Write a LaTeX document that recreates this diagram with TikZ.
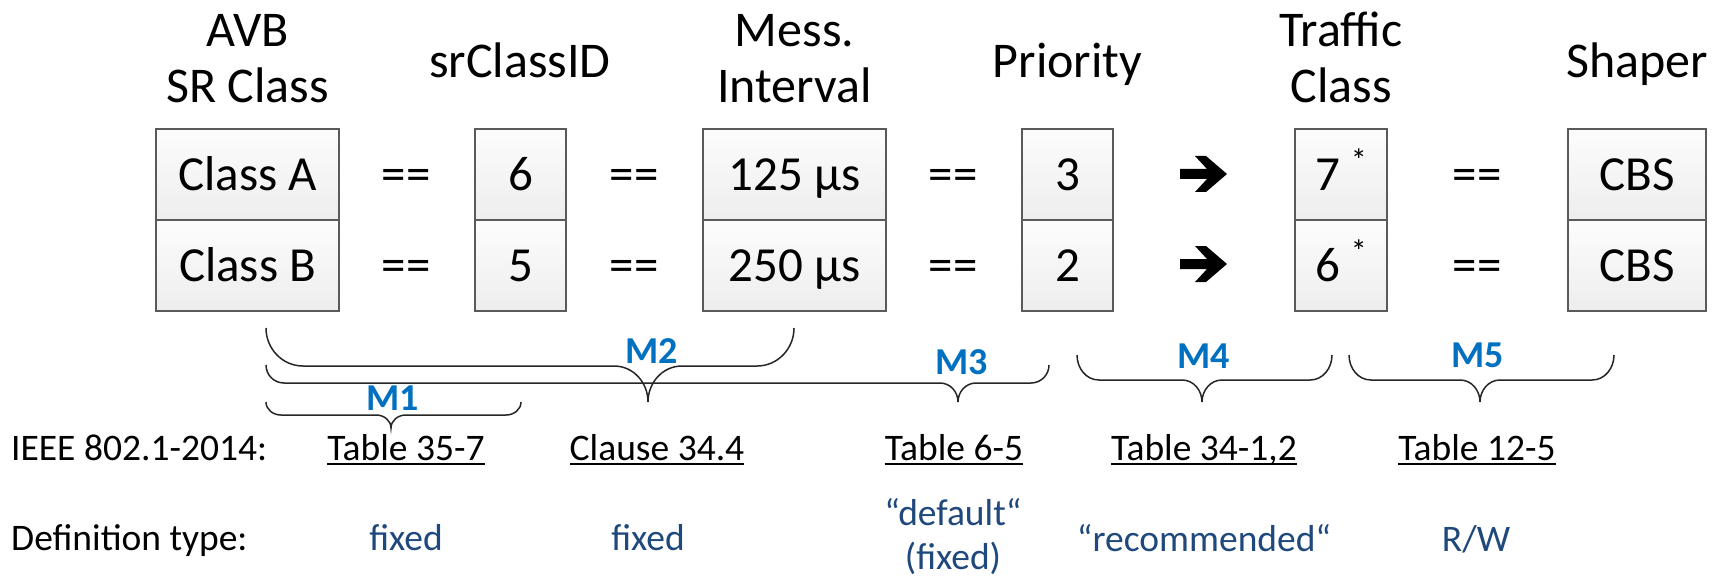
\documentclass[tikz,border=0pt]{standalone}
\usepackage{fontspec}
\setmainfont{Carlito}
\definecolor{mblue}{RGB}{0,112,192}
\definecolor{defblue}{RGB}{31,73,125}
\definecolor{boxline}{RGB}{90,90,90}
\tikzset{
  cell/.style={draw=boxline, line width=1.6pt, top color=white!99!black, bottom color=white!93!black,
    inner sep=0pt, minimum height=91pt, text height=31pt, text depth=0pt,
    font=\fontsize{49}{56}\selectfont},
  hdr/.style={inner sep=0pt, align=center, font=\fontsize{50}{56}\selectfont},
  eqs/.style={inner sep=0pt, anchor=base, font=\fontsize{49}{56}\selectfont},
  mlab/.style={inner sep=0pt, anchor=base, text=mblue, font=\fontsize{38}{40}\selectfont\bfseries},
  ref/.style={inner sep=0pt, anchor=base, font=\fontsize{37.5}{44}\selectfont},
  deftxt/.style={inner sep=0pt, anchor=base, text=defblue, font=\fontsize{37.5}{44}\selectfont},
  brace/.style={line width=1.5pt, black!85},
  ulin/.style={line width=2.2pt},
  fatarrow/.style={fill=black}
}
\newcommand{\mystarred}[1]{#1\hspace{11pt}\raisebox{19pt}{\fontsize{32}{32}\selectfont *}}
\begin{document}
\begin{tikzpicture}[x=1pt,y=-1pt]
\useasboundingbox (0,0) rectangle (1723,580);
\fill[white] (0,0) rectangle (1723,580);

% headers
\node[hdr, anchor=south] (h1) at (247.5,103) {AVB\\SR Class};
\node[hdr, anchor=base] (h2) at (520,78) {srClassID};
\node[hdr, anchor=south] (h3) at (794.5,103) {Mess.\\Interval};
\node[hdr, anchor=base] (h4) at (1067.5,78) {Priority};
\node[hdr, anchor=south] (h5) at (1341,103) {Traffic\\Class};
\node[hdr, anchor=base] (h6) at (1637,78) {Shaper};

% boxes
\node[cell, minimum width=183pt] (ca) at (247.5,174.5) {Class A};
\node[cell, minimum width=183pt] (cb) at (247.5,265.5) {Class B};
\node[cell, minimum width=91pt] (ia) at (520.5,174.5) {6};
\node[cell, minimum width=91pt] (ib) at (520.5,265.5) {5};
\node[cell, minimum width=183pt] (ma) at (794.5,174.5) {125 µs};
\node[cell, minimum width=183pt] (mb) at (794.5,265.5) {250 µs};
\node[cell, minimum width=91pt] (pa) at (1067.5,174.5) {3};
\node[cell, minimum width=91pt] (pb) at (1067.5,265.5) {2};
\node[cell, minimum width=92pt] (ta) at (1341,174.5) {\mystarred{7}};
\node[cell, minimum width=92pt] (tb) at (1341,265.5) {\mystarred{6}};
\node[cell, minimum width=138pt] (sa) at (1637,174.5) {CBS};
\node[cell, minimum width=138pt] (sb) at (1637,265.5) {CBS};

% equal signs
\node[eqs] (e1a) at (406,190) {==};
\node[eqs] (e1b) at (406,281) {==};
\node[eqs] (e2a) at (634,190) {==};
\node[eqs] (e2b) at (634,281) {==};
\node[eqs] (e3a) at (953,190) {==};
\node[eqs] (e3b) at (953,281) {==};
\node[eqs] (e4a) at (1477,190) {==};
\node[eqs] (e4b) at (1477,281) {==};

% fat arrows
\coordinate (arA) at (1180,174);
\coordinate (arB) at (1180,264);
\foreach \c in {arA,arB}{
  \fill[fatarrow, shift={(\c)}] (0,-5) -- (27,-5) -- (15,-18) -- (26,-18) -- (47,0)
     -- (26,18) -- (15,18) -- (27,5) -- (0,5) -- cycle;
}

% braces
\draw[brace] (266,328) to[out=-90,in=180] (303,366) -- (614,366) to[out=0,in=90] (648,402)
   to[out=90,in=180] (682,366) -- (757,366) to[out=0,in=-90] (794,328);
\draw[brace] (266,365) to[out=-90,in=180] (284,383) -- (940,383) to[out=0,in=90] (958,402)
   to[out=90,in=180] (976,383) -- (1031,383) to[out=0,in=-90] (1049,365);
\draw[brace] (266,402) to[out=-90,in=180] (281,415) -- (376,415) to[out=0,in=90] (391,428)
   to[out=90,in=180] (406,415) -- (506,415) to[out=0,in=-90] (521,402);
\draw[brace] (1077,355) to[out=-90,in=180] (1099,380) -- (1182,380) to[out=0,in=90] (1202,402)
   to[out=90,in=180] (1222,380) -- (1310,380) to[out=0,in=-90] (1332,355);
\draw[brace] (1349,355) to[out=-90,in=180] (1371,380) -- (1460,380) to[out=0,in=90] (1480,402)
   to[out=90,in=180] (1500,380) -- (1592,380) to[out=0,in=-90] (1614,355);

% brace labels
\node[mlab] (m1) at (393,410) {M1};
\node[mlab] (m2) at (652,363) {M2};
\node[mlab] (m3) at (962,374) {M3};
\node[mlab] (m4) at (1204,368) {M4};
\node[mlab] (m5) at (1478,367) {M5};

% references
\node[ref, anchor=base west] (std) at (11,460) {IEEE 802.1-2014:};
\node[ref] (r1) at (406,460) {Table 35-7};
\node[ref] (r2) at (657,460) {Clause 34.4};
\node[ref] (r3) at (954,460) {Table 6-5};
\node[ref] (r4) at (1204,460) {Table 34-1,2};
\node[ref] (r5) at (1477,460) {Table 12-5};
\foreach \r in {r1,r2,r3,r4,r5}{
  \draw[ulin] ([yshift=-4pt]\r.base west) -- ([yshift=-4pt]\r.base east);
}

% definition types
\node[ref, anchor=base west] (dt) at (11,550) {Definition type:};
\node[deftxt] (d1) at (406,550) {fixed};
\node[deftxt] (d2) at (648,550) {fixed};
\node[deftxt, align=center, anchor=north] (d3) at (953,498) {“default“\\(fixed)};
\node[deftxt] (d4) at (1204,551) {“recommended“};
\node[deftxt] (d5) at (1476,551) {R/W};
\end{tikzpicture}
\end{document}
